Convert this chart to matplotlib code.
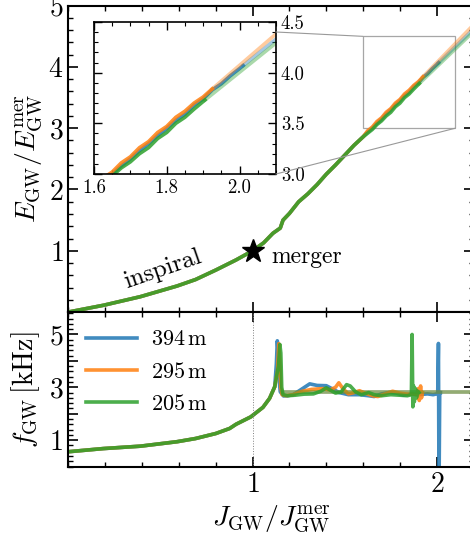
import matplotlib
matplotlib.use('Agg')
import matplotlib.pyplot as plt
from matplotlib.ticker import MultipleLocator
from matplotlib.patches import Rectangle, ConnectionPatch

plt.rcParams['font.family'] = 'serif'
plt.rcParams['font.serif'] = ['cmr10']
plt.rcParams['mathtext.fontset'] = 'cm'
plt.rcParams['axes.formatter.use_mathtext'] = True

labels = [r'$394\,\mathrm{m}$', r'$295\,\mathrm{m}$', r'$205\,\mathrm{m}$']
colors = ['tab:blue', 'tab:orange', 'tab:green']

# energy vs angular momentum (shared inspiral part)
J_insp = [0.0, 0.19, 0.39, 0.59, 0.69, 0.80, 0.91, 1.00, 1.06, 1.11, 1.15, 1.165, 1.20, 1.25,
          1.30, 1.35, 1.40, 1.45, 1.50, 1.55, 1.60]
E_insp = [0.0, 0.11, 0.25, 0.425, 0.53, 0.685, 0.85, 1.00, 1.13, 1.285, 1.37, 1.50, 1.61, 1.80,
          1.93, 2.08, 2.25, 2.40, 2.56, 2.72, 2.86]

J_post_394 = [1.60, 1.625, 1.65, 1.675, 1.70, 1.725, 1.75, 1.775, 1.80, 1.825, 1.85, 1.875,
              1.90, 1.925, 1.95, 1.975, 2.00, 2.01]
E_post_394 = [2.86, 2.94, 3.00, 3.08, 3.15, 3.23, 3.30, 3.38, 3.45, 3.53, 3.59, 3.68,
              3.74, 3.83, 3.89, 3.97, 4.04, 4.07]
J_post_295 = [1.60, 1.625, 1.65, 1.675, 1.70, 1.725, 1.75, 1.775, 1.80, 1.825, 1.85, 1.875,
              1.90, 1.925]
E_post_295 = [2.87, 2.96, 3.02, 3.11, 3.17, 3.26, 3.32, 3.41, 3.47, 3.56, 3.62, 3.70,
              3.76, 3.84]
J_post_205 = [1.60, 1.625, 1.65, 1.675, 1.70, 1.725, 1.75, 1.775, 1.80, 1.825, 1.85, 1.875,
              1.905]
E_post_205 = [2.85, 2.92, 2.98, 3.06, 3.12, 3.20, 3.26, 3.35, 3.41, 3.50, 3.56, 3.64,
              3.73]

# straight continuation after the end of each run
J_ext = [[2.01, 2.2], [1.925, 2.2], [1.905, 2.2]]
E_ext = [[4.07, 4.62], [3.84, 4.69], [3.73, 4.58]]

# frequency vs angular momentum
J_f_insp = [0.0, 0.19, 0.39, 0.59, 0.69, 0.80, 0.875, 0.91, 0.99, 1.056, 1.092, 1.12]
f_insp = [0.56, 0.68, 0.77, 0.94, 1.06, 1.25, 1.44, 1.60, 1.88, 2.24, 2.58, 3.02]

J_f_394 = [1.12, 1.129, 1.134, 1.14, 1.145, 1.15, 1.168, 1.19, 1.22, 1.26, 1.31, 1.35, 1.40,
           1.43, 1.47, 1.52, 1.58, 1.63, 1.66, 1.70, 1.74, 1.78, 1.82, 1.86, 1.90, 1.95,
           1.98, 2.005, 2.009, 2.012, 2.016, 2.02]
f_394 = [3.02, 3.9, 4.76, 4.2, 3.2, 2.83, 2.67, 2.68, 2.72, 2.9, 3.13, 3.07, 3.06,
         2.95, 2.8, 2.72, 2.72, 2.68, 2.65, 2.75, 2.80, 2.78, 2.70, 2.74, 2.72, 2.75,
         2.72, 2.76, 4.66, -1.0, 2.8, 2.8]
J_f_295 = [1.12, 1.135, 1.142, 1.148, 1.153, 1.16, 1.18, 1.22, 1.27, 1.32, 1.38, 1.42, 1.45,
           1.468, 1.49, 1.52, 1.55, 1.58, 1.61, 1.65, 1.68, 1.72, 1.76, 1.80, 1.84, 1.87,
           1.89, 1.90, 1.905, 1.912, 1.917, 1.922]
f_295 = [3.02, 3.6, 4.65, 4.0, 3.0, 2.72, 2.68, 2.72, 2.85, 2.92, 2.95, 2.9, 3.0,
         3.17, 2.95, 2.75, 2.80, 2.87, 2.78, 2.68, 2.65, 2.75, 2.85, 2.78, 2.74, 2.75,
         2.72, 2.95, 2.5, 3.05, 2.6, 2.8]
J_f_205 = [1.12, 1.14, 1.148, 1.153, 1.158, 1.165, 1.19, 1.23, 1.28, 1.33, 1.37, 1.40, 1.42,
           1.45, 1.48, 1.51, 1.53, 1.56, 1.59, 1.63, 1.66, 1.70, 1.75, 1.80, 1.84, 1.862,
           1.866, 1.870, 1.874, 1.878, 1.884, 1.89, 1.897, 1.903]
f_205 = [3.02, 3.8, 4.62, 4.3, 3.0, 2.72, 2.68, 2.7, 2.74, 2.75, 2.85, 2.98, 2.9,
         2.78, 2.82, 3.1, 3.05, 2.82, 2.72, 2.8, 2.72, 2.68, 2.72, 2.70, 2.68, 2.72,
         5.0, 2.26, 3.05, 2.45, 2.95, 2.6, 2.85, 2.8]
f_final = [2.82, 2.83, 2.84]

fig = plt.figure(figsize=(4.7, 5.45), dpi=100)
ax1 = fig.add_axes([0.1457, 0.4275, 0.862, 0.562])
ax2 = fig.add_axes([0.1457, 0.144, 0.862, 0.2835], sharex=ax1)
ins = fig.add_axes([0.2, 0.6807, 0.387, 0.279])

E_post = [E_post_394, E_post_295, E_post_205]
J_post = [J_post_394, J_post_295, J_post_205]
J_f = [J_f_394, J_f_295, J_f_205]
f_post = [f_394, f_295, f_205]

lw = 2.6
for i in range(3):
    for a in (ax1, ins):
        a.plot(J_ext[i], E_ext[i], color=colors[i], lw=lw, alpha=0.4)
        a.plot(J_insp + J_post[i][1:], E_insp + E_post[i][1:], color=colors[i], lw=lw, alpha=0.85)
    ax2.plot([1.16, 2.2], [f_final[i], f_final[i]], color=colors[i], lw=lw, alpha=0.35)
    ax2.plot(J_f_insp + J_f[i][1:], f_insp + f_post[i][1:], color=colors[i], lw=lw,
             alpha=0.85, label=labels[i])

ax1.plot([1], [1], marker='*', color='k', ms=17, zorder=5)
ax1.text(1.10, 0.9, 'merger', fontsize=17, va='center', ha='left')
ax1.text(0.51, 0.70, 'inspiral', fontsize=18, va='center', ha='center', rotation=19)

ax2.axvline(1, color='gray', lw=0.7, ls=':')

# zoom box and connectors
ax1.add_patch(Rectangle((1.6, 3.0), 0.5, 1.5, fill=False, ec='0.65', lw=0.9))
for xyA, xyB in [((1.0, 0.934), (1.6, 4.5)), ((1.0, 0.0), (2.1, 3.0))]:
    con = ConnectionPatch(xyA=xyA, coordsA=ins.transAxes, xyB=xyB, coordsB=ax1.transData,
                          color='0.6', lw=0.8)
    fig.add_artist(con)

ax1.set_xlim(0, 2.2)
ax1.set_ylim(0, 5)
ax2.set_ylim(0, 5.85)
ins.set_xlim(1.6, 2.1)
ins.set_ylim(3.0, 4.5)

for a in (ax1, ax2):
    a.tick_params(which='both', direction='in', top=True, right=True, labelsize=20)
    a.tick_params(which='major', length=7, width=1.2)
    a.tick_params(which='minor', length=3.5, width=1.0)
    for s in a.spines.values():
        s.set_linewidth(1.5)
    a.xaxis.set_major_locator(MultipleLocator(1))
    a.xaxis.set_minor_locator(MultipleLocator(0.2))
    a.yaxis.set_minor_locator(MultipleLocator(0.2))

ax1.set_yticks([1, 2, 3, 4, 5])
ax1.tick_params(labelbottom=False)
ax2.set_yticks([1, 2, 3, 4, 5])
ax2.set_yticklabels(['1', '', '3', '', '5'])
ax2.set_xticks([1, 2])

ins.tick_params(which='both', direction='in', top=True, right=True, left=True,
                labelleft=False, labelright=True, labelsize=13.5)
ins.tick_params(which='major', length=6, width=1.0)
ins.tick_params(which='minor', length=3, width=0.8)
ins.xaxis.set_minor_locator(MultipleLocator(0.05))
ins.yaxis.set_minor_locator(MultipleLocator(0.1))
ins.set_xticks([1.6, 1.8, 2.0])
ins.set_xticklabels(['1.6', '1.8', '2.0'])
ins.set_yticks([3.0, 3.5, 4.0, 4.5])
ins.set_yticklabels(['3.0', '3.5', '4.0', '4.5'])
for s in ins.spines.values():
    s.set_linewidth(1.2)

ax1.set_ylabel(r'$E_{\rm GW}/E_{\rm GW}^{\rm mer}$', fontsize=20)
ax2.set_ylabel(r'$f_{\rm GW}\,[{\rm kHz}]$', fontsize=20)
ax2.set_xlabel(r'$J_{\rm GW}/J_{\rm GW}^{\rm mer}$', fontsize=20)
ax1.yaxis.set_label_coords(-0.058, 0.5)
ax2.yaxis.set_label_coords(-0.066, 0.5)

ax2.legend(loc='upper left', frameon=False, fontsize=16, handlelength=2.3,
           handletextpad=0.6, borderaxespad=0.4, labelspacing=0.55)

fig.savefig('out.png', dpi=100)
